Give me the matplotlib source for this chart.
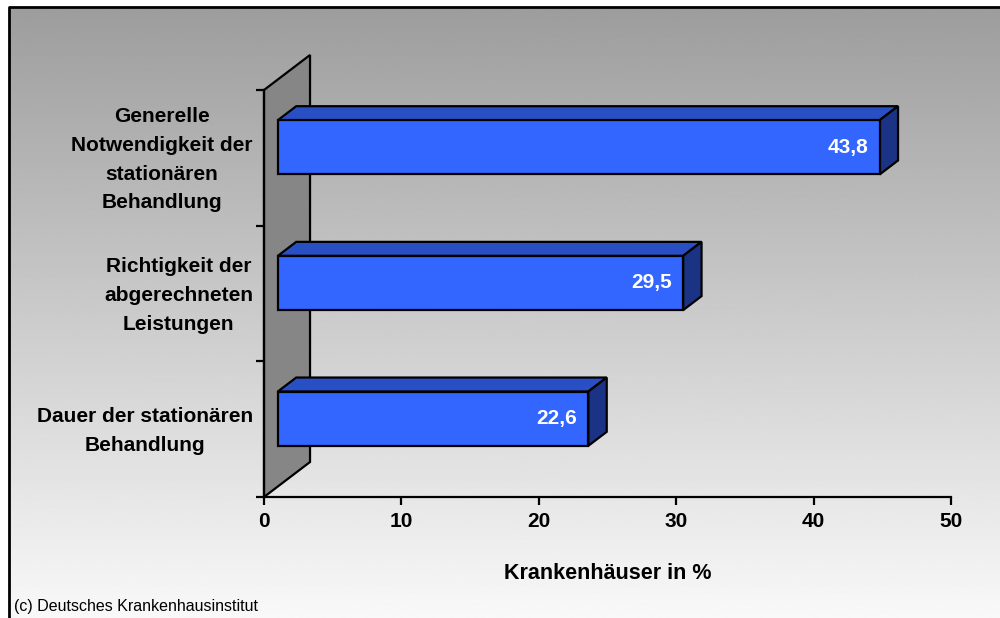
import numpy as np
import matplotlib
matplotlib.use("Agg")
import matplotlib.pyplot as plt
from matplotlib.patches import Polygon
from matplotlib.transforms import ScaledTranslation

plt.rcParams["font.family"] = ["Liberation Sans", "DejaVu Sans"]

# Daten (von unten nach oben)
kategorien = [
    "Dauer der stationären\nBehandlung",
    "Richtigkeit der\nabgerechneten\nLeistungen",
    "Generelle\nNotwendigkeit der\nstationären\nBehandlung",
]
werte = [22.6, 29.5, 43.8]
werte_text = ["22,6", "29,5", "43,8"]
x_ticks = [0, 10, 20, 30, 40, 50]

# Farben
C_FRONT = "#3366FF"
C_TOP = "#2850C4"
C_SIDE = "#1B3385"
C_WALL = "#868686"

# 3D-Tiefe in Datenkoordinaten
DX, DY = 3.35, 0.258
F_VORNE, F_HINTEN = 0.3, 0.7
BALKEN_H = 0.4

fig = plt.figure(figsize=(10, 6.18), dpi=100)

# Hintergrund mit Verlauf + Rahmen
bg = fig.add_axes([0, 0, 1, 1], zorder=0)
bg.set_xlim(0, 1000)
bg.set_ylim(618, 0)
bg.axis("off")
grad = np.linspace(0.615, 0.975, 256).reshape(-1, 1)
bg.imshow(grad, cmap="gray", vmin=0, vmax=1, aspect="auto",
          extent=(9, 1000, 618, 7), interpolation="bilinear")
bg.plot([9, 9, 1000], [618, 7, 7], color="black", linewidth=2, solid_capstyle="projecting")

ax = fig.add_axes([0.264, 0.19579, 0.687, 0.65858], zorder=1)
ax.patch.set_alpha(0)
ax.set_xlim(0, 50)
ax.set_ylim(-0.5, 2.5)

# Wand links
wand = Polygon([(0, -0.5), (0, 2.5), (DX, 2.5 + DY), (DX, -0.5 + DY)],
               closed=True, facecolor=C_WALL, edgecolor="black", linewidth=1.6,
               clip_on=False, zorder=1)
ax.add_patch(wand)

y_pos = np.arange(len(werte))
x0 = F_VORNE * DX
ddx = (F_HINTEN - F_VORNE) * DX
ddy = (F_HINTEN - F_VORNE) * DY
for i, (v, txt) in enumerate(zip(werte, werte_text)):
    yc = y_pos[i] + F_VORNE * DY
    yb, yt = yc - BALKEN_H / 2, yc + BALKEN_H / 2
    oben = Polygon([(x0, yt), (x0 + v, yt), (x0 + v + ddx, yt + ddy), (x0 + ddx, yt + ddy)],
                   closed=True, facecolor=C_TOP, edgecolor="black", linewidth=1.6, zorder=2)
    seite = Polygon([(x0 + v, yb), (x0 + v, yt), (x0 + v + ddx, yt + ddy), (x0 + v + ddx, yb + ddy)],
                    closed=True, facecolor=C_SIDE, edgecolor="black", linewidth=1.6, zorder=2)
    ax.add_patch(oben)
    ax.add_patch(seite)
    ax.barh(yc, v, left=x0, height=BALKEN_H, color=C_FRONT, edgecolor="black",
            linewidth=1.6, zorder=3)
    ax.annotate(txt, xy=(x0 + v, yc), xytext=(-8, 0), textcoords="offset points",
                ha="right", va="center", color="white", fontsize=15,
                fontweight="bold", zorder=4)

# Achsen
for s in ["top", "right"]:
    ax.spines[s].set_visible(False)
ax.spines["left"].set_linewidth(1.6)
ax.spines["bottom"].set_linewidth(1.6)
ax.spines["left"].set_zorder(5)

ax.set_xticks(x_ticks)
ax.set_xticklabels([str(t) for t in x_ticks], fontsize=15, fontweight="bold")
ax.tick_params(axis="x", length=6, width=1.6, pad=5)

ax.set_yticks(y_pos)
ax.set_yticklabels(kategorien, fontsize=15, fontweight="bold",
                   multialignment="center", linespacing=1.65)
ax.set_yticks([-0.5, 0.5, 1.5, 2.5], minor=True)
ax.tick_params(axis="y", which="major", length=0, pad=8)
ax.tick_params(axis="y", which="minor", length=6, width=1.6)
# Beschriftungen etwas nach oben schieben
hoch = ScaledTranslation(0, 5 / 100, fig.dpi_scale_trans)
for lbl in ax.get_yticklabels():
    lbl.set_transform(lbl.get_transform() + hoch)

ax.set_xlabel("Krankenhäuser in %", fontsize=15.5, fontweight="bold", labelpad=23)

fig.text(0.014, 0.019, "(c) Deutsches Krankenhausinstitut", fontsize=11.5,
         ha="left", va="center")

fig.savefig("out.png", dpi=100)
plt.close(fig)
